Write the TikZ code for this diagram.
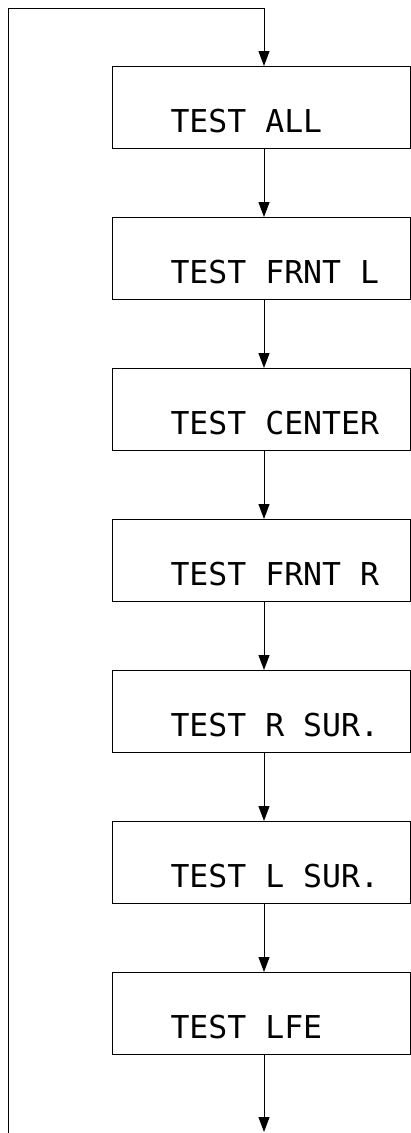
\documentclass[tikz,border=0pt]{standalone}
\usepackage{fontspec}
\newfontfamily\lcdfont{DejaVu Sans Mono}
\usetikzlibrary{arrows.meta}

\begin{document}
\begin{tikzpicture}[x=1pt, y=-1pt]
        \useasboundingbox (0,0) rectangle (411,1133);
        \coordinate (top) at (264,8);
        \coordinate (back) at (8,1133);
        \coordinate (out) at (264,1132);
        \begin{scope}[every node/.style={draw, line width=1pt, anchor=north west, inner sep=0pt, text width=298pt, text height=66pt, text depth=16pt, align=left, execute at begin node={\spaceskip=0.602em\relax\hspace*{58pt}}, font=\lcdfont\fontsize{31.5}{36}\selectfont}]
            \node (all) at (112,66) {TEST ALL};
            \node (frntl) at (112,217) {TEST FRNT L};
            \node (center) at (112,368) {TEST CENTER};
            \node (frntr) at (112,519) {TEST FRNT R};
            \node (rsur) at (112,670) {TEST R SUR.};
            \node (lsur) at (112,821) {TEST L SUR.};
            \node (lfe) at (112,972) {TEST LFE};
        \end{scope}
        \begin{scope}[every path/.style={-{Triangle[length=15pt, width=11pt]}, line width=1pt}]
            \draw (back) |- (top) -- (top |- all.north);
            \draw (all.south -| top) -- (frntl.north -| top);
            \draw (frntl.south -| top) -- (center.north -| top);
            \draw (center.south -| top) -- (frntr.north -| top);
            \draw (frntr.south -| top) -- (rsur.north -| top);
            \draw (rsur.south -| top) -- (lsur.north -| top);
            \draw (lsur.south -| top) -- (lfe.north -| top);
            \draw (lfe.south -| top) -- (out);
        \end{scope}
    \end{tikzpicture}
\end{document}
